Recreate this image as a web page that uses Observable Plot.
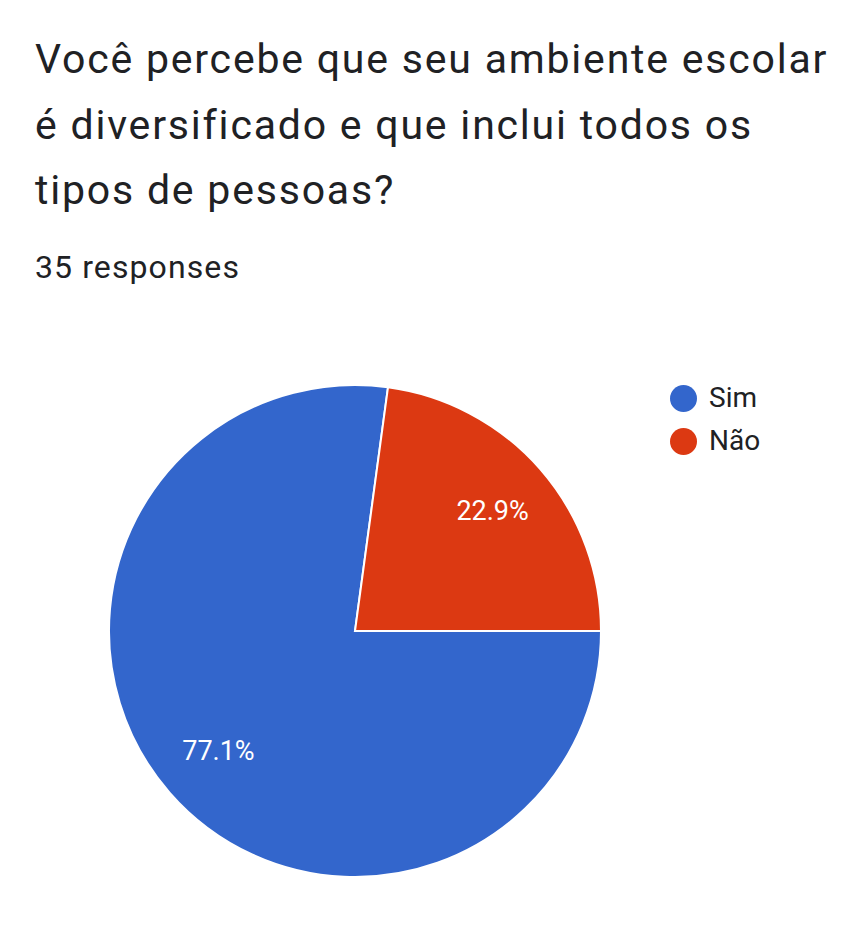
<!DOCTYPE html>
<html><head><meta charset="utf-8">
<script src="https://cdn.jsdelivr.net/npm/d3@7"></script>
<script src="https://cdn.jsdelivr.net/npm/@observablehq/plot@0.6"></script>
<style>
body{margin:0;background:#fff;font-family:Roboto,sans-serif;color:#202124;}
#wrap{position:relative;width:853px;height:935px;overflow:hidden;}
.title{position:absolute;left:35px;top:27px;font-size:41px;line-height:65.5px;letter-spacing:1.8px;white-space:nowrap;}
.sub{position:absolute;left:35px;top:251px;font-size:32px;line-height:32px;letter-spacing:1.1px;white-space:nowrap;}
#chart{position:absolute;left:0;top:300px;}
.legend{position:absolute;left:670px;top:384px;font-size:28px;}
.legend .item{position:relative;height:43px;line-height:28px;padding-left:39px;}
.legend .sw{position:absolute;left:0;top:1px;width:27px;height:27px;border-radius:50%;}
</style></head>
<body>
<div id="wrap">
  <div class="title" id="title"></div>
  <div class="sub" id="sub"></div>
  <div id="chart"></div>
  <div class="legend" id="legend"></div>
</div>
<script>
const titleLines = ["Você percebe que seu ambiente escolar", "é diversificado e que inclui todos os", "tipos de pessoas?"];
const subtitle = "35 responses";
const categories = ["Sim", "Não"];
const counts = [27, 8];
const percents = [77.1, 22.9];
const colors = ["#3366cc", "#dc3912"];

document.getElementById("title").innerHTML = titleLines.join("<br>");
document.getElementById("sub").textContent = subtitle;

const legend = document.getElementById("legend");
categories.forEach((c, i) => {
  const it = document.createElement("div");
  it.className = "item";
  const sw = document.createElement("span");
  sw.className = "sw";
  sw.style.background = colors[i];
  it.appendChild(sw);
  it.appendChild(document.createTextNode(c));
  legend.appendChild(it);
});

const data = categories.map((c, i) => ({cat: c, count: counts[i], pct: percents[i]}));
const pie = d3.pie().value(d => d.count).sort(null)
  .startAngle(Math.PI / 2).endAngle(Math.PI / 2 + 2 * Math.PI);
const arcs = pie(data);
const labelData = arcs.map(a => {
  const m = (a.startAngle + a.endAngle) / 2;
  return {x: 0.74 * Math.sin(m), y: 0.74 * Math.cos(m), label: a.data.pct.toFixed(1) + "%"};
});
const colorOf = c => colors[categories.indexOf(c)];

const slices = (index, scales) => {
  const cx = scales.x(0), cy = scales.y(0), r = scales.x(1) - scales.x(0);
  const g = d3.create("svg:g").attr("transform", `translate(${cx},${cy})`);
  const arc = d3.arc().innerRadius(0).outerRadius(r);
  g.selectAll("path").data(arcs).join("path")
    .attr("d", arc)
    .attr("fill", d => colorOf(d.data.cat))
    .attr("stroke", "#fff")
    .attr("stroke-width", 2)
    .attr("stroke-linejoin", "miter");
  return g.node();
};

const chart = Plot.plot({
  width: 853,
  height: 635,
  margin: 0,
  x: {domain: [-1, 1], range: [109, 601], axis: null},
  y: {domain: [-1, 1], range: [577, 85], axis: null},
  style: {fontFamily: "Roboto, sans-serif", background: "#fff"},
  marks: [
    slices,
    Plot.text(labelData, {x: "x", y: "y", text: "label", fill: "white", fontSize: 27})
  ]
});
document.getElementById("chart").appendChild(chart);
</script>
</body></html>
